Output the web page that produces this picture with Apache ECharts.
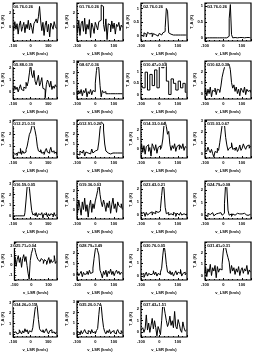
<!DOCTYPE html>
<html><head><meta charset="utf-8">
<script src="https://cdn.jsdelivr.net/npm/echarts@6/dist/echarts.min.js"></script>
<style>html,body{margin:0;padding:0;background:#fff}#c{width:253px;height:353px}</style>
</head><body><div id="c"></div>
<script>
const names = ["G0.76-0.26","G1.76-0.26","G2.76-0.26","G3.76-0.26","G5.88-0.39","G8.67-0.36","G10.47+0.03","G10.62-0.38",
"G12.21-0.10","G12.91-0.26","G14.33-0.64","G15.03-0.67","G16.59-0.05","G19.36-0.03","G23.43-0.21","G24.79+0.08",
"G25.71+0.04","G28.79+3.49","G30.76-0.05","G31.41+0.31","G34.26+0.15","G35.20-0.74","G37.43+1.51"];
const yMin = [-2,-2,-0.2,-0.1,-0.6,-0.5,-0.2,-0.5,0,-0.4,-1,-0.4,-0.3,-1,-0.3,-0.3,-1.5,-0.5,-0.3,-0.4,-0.3,-0.3,-0.4];
const yMax = [3.5,3.5,1.2,1.1,2.6,3.1,1.5,3.0,3.2,3.4,3.0,3.1,3.3,3.0,2.6,2.7,2.4,3.0,2.6,3.0,3.2,3.1,2.7];
const xMin = -100, xMax = 150;
const p = [
[0.2,-0.5,0.8,-0.3,0.5,-1.0,0.3,0.9,-0.6,0.1,0.7,-0.8,0.4,-0.2,1.0,-0.4,0.6,0.0,-0.9,0.5,0.8,1.2,0.6,1.5,3.0,0.9,-0.5,0.7,-1.2,0.3,0.9,-0.7,0.4,-1.4,0.6,0.2,-0.3,0.8,0.1,-0.2],
[0.3,-0.8,1.0,-1.2,0.5,0.9,-0.6,1.3,-1.0,0.4,-0.3,1.1,-1.5,0.6,0.0,-0.9,0.7,0.2,-0.4,0.8,1.0,3.2,3.0,0.4,-0.6,1.2,-1.8,0.5,0.3,-0.7,0.9,-0.2,0.6,-1.0,0.4,0.1,0.7,-0.5,0.3,0.0],
[0.02,0.08,-0.03,0.1,0.05,-0.05,0.12,0.06,0.0,0.09,-0.04,0.07,0.03,0.1,-0.02,0.05,0.08,0.02,0.06,0.1,0.15,0.3,1.0,0.9,0.1,0.05,0.02,0.02,0.02,0.02,0.02,0.02,0.02,0.02,0.02,0.02,0.02,0.02,0.02,0.02],
[0.0,0.01,0.0,0.02,0.0,0.01,0.0,0.03,0.0,0.01,0.0,0.02,0.0,0.01,0.0,0.02,0.0,0.01,0.0,0.02,0.05,0.6,1.05,0.1,0.0,0.01,0.0,0.02,0.0,0.01,0.0,0.01,0.0,0.02,0.0,0.01,0.0,0.01,0.0,0.01],
[0.3,0.1,0.5,0.2,0.4,0.0,0.3,0.6,0.2,0.1,0.4,0.3,0.8,0.5,0.9,1.6,2.4,1.5,1.2,1.8,0.9,0.6,1.0,1.4,0.5,0.8,1.2,0.3,0.2,-0.5,0.6,1.0,0.8,0.4,0.9,0.2,0.5,0.3,0.6,0.4],
[0.2,-0.1,0.3,0.0,0.4,-0.2,0.3,0.1,0.5,-0.3,0.2,0.0,0.4,-0.1,0.3,0.2,1.0,2.2,2.9,2.4,0.8,-0.3,0.3,0.1,0.2,0.0,0.0,0.0,0.0,0.0,0.0,0.0,0.0,0.0,0.0,0.0,0.0,0.0,0.0,0.0],
[0.5,0.5,0.3,0.3,1.0,1.0,0.2,0.2,0.9,0.9,0.4,0.4,1.1,1.1,0.3,0.3,1.3,1.3,1.2,1.2,1.4,1.4,0.6,0.6,0.0,0.0,0.7,0.7,0.5,0.5,0.2,0.2,0.6,0.6,0.3,0.3,0.5,0.5,0.1,0.1],
[0.1,0.5,-0.2,0.4,0.0,0.6,-0.3,0.3,0.2,0.5,-0.1,0.4,0.3,0.1,0.7,1.5,2.0,2.4,2.6,2.8,2.5,2.7,2.2,1.0,0.5,0.8,0.2,0.6,0.0,0.4,-0.2,0.5,0.3,0.1,0.6,-0.1,0.4,0.2,0.3,0.1],
[0.5,0.6,0.3,0.4,0.2,0.5,0.4,0.8,0.3,0.6,0.4,0.5,0.7,1.0,1.5,2.0,2.2,2.6,2.9,2.7,2.3,1.8,1.0,0.6,0.5,0.7,0.4,0.5,0.3,0.6,0.8,0.5,0.4,0.6,0.9,0.5,0.6,0.4,0.5,0.3],
[0.0,0.2,-0.1,0.3,0.1,0.0,0.4,-0.2,0.2,0.1,0.3,0.0,0.2,0.5,0.1,0.3,0.2,0.4,0.6,1.2,2.5,3.2,3.0,2.4,1.0,0.3,0.1,0.2,0.0,0.2,0.1,0.1,0.1,0.1,0.1,0.1,0.1,0.1,0.1,0.1],
[0.0,0.5,-0.4,0.3,-0.6,0.2,0.4,-0.3,0.1,-0.8,0.5,0.2,-0.2,0.4,-0.5,0.1,0.3,-0.1,0.2,1.0,2.5,2.8,2.3,1.5,1.8,0.4,-0.2,0.3,0.0,0.5,-0.3,0.2,0.4,-0.1,0.3,0.0,0.5,-0.2,0.2,0.1],
[0.4,0.5,0.2,0.6,0.3,0.1,0.4,0.0,-0.3,0.2,0.1,0.5,0.3,1.0,1.8,2.6,2.9,2.7,1.5,0.8,0.3,0.5,0.6,1.0,0.4,0.5,0.3,0.6,0.2,0.4,0.8,0.3,0.5,0.9,0.6,0.4,0.7,0.8,0.5,0.7],
[0.0,0.0,0.0,0.0,0.0,0.0,0.0,0.0,0.0,0.0,0.0,0.3,1.5,2.8,3.0,2.6,1.5,0.5,0.1,0.2,0.0,0.3,-0.1,0.2,0.1,0.0,0.3,-0.2,0.2,0.1,0.3,-0.1,0.2,0.0,0.2,0.1,-0.1,0.3,0.0,0.1],
[0.6,-0.4,1.0,0.2,-0.6,0.8,0.0,1.2,-0.2,0.5,-0.8,0.4,1.0,-0.3,0.6,0.1,0.9,1.4,2.0,2.8,1.6,0.8,0.3,1.0,0.5,-0.2,0.7,0.2,0.9,-0.4,0.5,1.2,0.1,0.6,-0.3,0.8,0.4,0.2,0.6,0.0],
[0.1,0.0,0.2,0.1,-0.1,0.2,0.0,0.15,0.1,0.25,0.0,0.2,0.1,0.3,0.2,0.1,0.3,0.5,1.5,2.4,2.0,0.6,0.1,0.2,0.0,0.1,0.15,0.0,0.2,0.1,-0.1,0.15,0.0,0.1,0.2,0.0,0.1,0.15,0.0,0.1],
[0.0,0.1,-0.1,0.15,0.05,0.0,0.2,0.1,-0.05,0.1,0.0,0.15,0.05,0.2,0.1,0.0,0.15,0.9,2.5,2.2,0.4,0.0,0.1,-0.1,0.1,0.05,0.0,0.15,0.0,0.1,-0.05,0.1,0.0,0.05,0.15,0.0,0.1,0.05,0.0,0.1],
[0.2,0.9,-0.1,0.6,1.0,0.3,0.8,-0.2,0.7,1.1,0.4,0.9,0.0,-0.8,-1.4,0.5,1.2,1.6,2.2,1.8,1.3,0.9,0.6,0.4,0.3,0.7,0.5,0.2,0.6,0.4,0.1,0.5,0.8,0.2,0.6,0.3,0.5,1.0,0.2,0.4],
[0.0,0.2,-0.1,0.1,0.3,-0.2,0.2,0.0,0.1,0.3,0.0,0.4,0.1,0.2,0.6,1.5,2.3,2.6,2.2,1.8,0.4,0.1,-0.3,0.3,0.0,0.4,-0.2,0.3,0.1,0.5,0.0,0.3,-0.1,0.2,0.4,0.1,0.3,0.0,0.2,0.1],
[0.1,0.0,0.2,-0.1,0.1,0.3,0.0,0.2,0.1,0.0,0.2,0.4,0.1,0.3,0.0,0.2,0.1,0.3,0.6,1.6,2.4,1.8,0.9,0.3,0.2,0.4,0.1,0.3,0.0,0.2,0.4,0.1,0.3,0.2,0.5,0.0,0.2,0.3,0.1,0.2],
[0.2,0.8,-0.1,0.6,0.3,1.0,0.0,0.7,0.4,0.9,-0.2,0.8,0.3,0.6,0.5,1.0,2.2,2.8,2.5,2.0,1.6,1.2,0.2,0.9,0.4,0.7,0.1,0.6,0.3,0.8,0.0,0.5,0.7,0.2,0.6,0.4,0.9,0.1,0.5,0.3],
[0.1,0.0,0.2,0.3,0.0,0.1,0.4,0.2,0.0,0.3,0.1,0.5,0.2,0.4,0.0,0.3,0.2,0.1,0.6,1.5,2.4,3.0,2.6,1.4,0.5,0.3,0.2,0.4,0.1,0.3,0.5,0.2,0.0,0.3,0.4,0.1,0.2,0.3,0.0,0.2],
[0.0,0.2,0.1,-0.1,0.3,0.0,0.2,0.4,0.1,0.0,0.3,0.2,0.0,0.4,0.1,0.2,0.0,0.3,0.5,1.8,2.9,2.7,1.5,0.6,0.2,0.0,0.3,0.1,0.4,0.0,0.2,0.3,0.1,0.0,0.2,0.4,0.1,0.0,0.3,0.1],
[0.2,0.1,0.4,0.0,0.3,1.5,0.2,0.8,0.0,0.6,1.2,0.3,1.0,0.4,-0.3,0.5,0.2,-0.2,1.0,2.5,2.2,1.6,1.0,0.5,0.8,1.4,0.6,1.0,0.4,1.8,0.5,0.3,1.1,0.7,0.2,0.0,0.9,0.4,0.1,0.2]
];
const colLeft = [11, 77, 141, 205];
const rowTop = [3, 61, 120, 181, 242, 301];
const W = 46, H = 38;
const grid = [], xAxis = [], yAxis = [], series = [], title = [];
p.forEach((d, i) => {
  const r = Math.floor(i / 4), c = i % 4;
  grid.push({left: colLeft[c], top: rowTop[r], width: W, height: H, show: true, borderColor: '#000', borderWidth: 1.2});
  const cats = d.map((_, k) => k);
  xAxis.push({type: 'category', gridIndex: i, data: cats, boundaryGap: false, show: false, axisLine: {onZero: false}});
  xAxis.push({type: 'value', gridIndex: i, min: xMin, max: xMax, interval: 100, position: 'bottom',
    axisLine: {show: false, onZero: false}, axisTick: {inside: true, length: 2, lineStyle: {color: '#000', width: 1}},
    minorTick: {show: true, splitNumber: 4, length: 1, lineStyle: {color: '#000'}},
    splitLine: {show: false}, axisLabel: {fontSize: 4, color: '#000', margin: 3, fontWeight: 'bold', showMaxLabel: false},
    name: 'v_LSR (km/s)', nameLocation: 'middle', nameGap: 11,
    nameTextStyle: {fontSize: 4, color: '#000', fontWeight: 'bold'}});
  yAxis.push({type: 'value', gridIndex: i, min: yMin[i], max: yMax[i], splitNumber: 3,
    axisLine: {show: false, onZero: false}, axisTick: {inside: true, length: 2, lineStyle: {color: '#000'}},
    minorTick: {show: true, splitNumber: 4, length: 1, lineStyle: {color: '#000'}},
    splitLine: {show: false}, axisLabel: {fontSize: 4, color: '#000', margin: 2, fontWeight: 'bold', showMinLabel: false, showMaxLabel: false},
    name: 'T_A (K)', nameLocation: 'middle', nameGap: 7, nameRotate: 90,
    nameTextStyle: {fontSize: 4, color: '#000', fontWeight: 'bold'}});
  series.push({type: 'line', xAxisIndex: 2 * i, yAxisIndex: i, data: d, step: 'middle', symbol: 'none',
    lineStyle: {color: '#000', width: 1}, silent: true, animation: false});
  title.push({text: names[i], left: colLeft[c] + 2, top: rowTop[r] + 2, padding: 0,
    textStyle: {fontSize: 4, color: '#000', fontWeight: 'bold'}, backgroundColor: '#fff'});
});
const chart = echarts.init(document.getElementById('c'), null, {renderer: 'canvas'});
chart.setOption({animation: false, grid, xAxis, yAxis, series, title});
</script></body></html>
